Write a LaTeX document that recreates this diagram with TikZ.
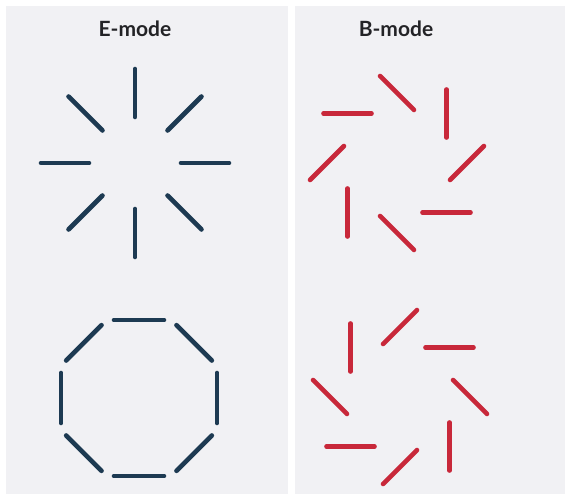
\documentclass[tikz,border=0pt]{standalone}
\usepackage{fontspec}
\setmainfont{Lato}
\usetikzlibrary{calc}
\definecolor{panelgray}{HTML}{F1F1F4}
\definecolor{stickblue}{HTML}{1D3A52}
\definecolor{stickred}{HTML}{C8283A}
\definecolor{titlegray}{HTML}{232326}
\begin{document}
\begin{tikzpicture}[x=1pt,y=-1pt,
  panel/.style={fill=panelgray,draw=none},
  title/.style={font=\bfseries\fontsize{21}{24}\selectfont,text=titlegray,inner sep=0pt},
  bstick/.style={line width=4.6pt,line cap=round,stickblue},
  rstick/.style={line width=4.6pt,line cap=round,stickred}]
\useasboundingbox (0,0) rectangle (568,494);
\fill[white] (0,0) rectangle (568,494);
\fill[panel] (6,6) rectangle (288,494);
\fill[panel] (295,6) rectangle (565,494);
\node[title] (etitle) at (135,29) {E-mode};
\node[title] (btitle) at (396,29) {B-mode};
% E-mode radial
\foreach \a in {0,45,...,315}{
  \draw[bstick] ($(135,163)+(\a:46)$) -- ($(135,163)+(\a:94)$);
}
% E-mode tangential
\foreach \a in {0,45,...,315}{
  \draw[bstick] ($(139,398)+(\a:78)+(\a+90:25)$) -- ($(139,398)+(\a:78)+(\a-90:25)$);
}
% B-mode top
\foreach \a in {0,45,...,315}{
  \draw[rstick] ($(397,163)+(\a:70)+(\a-45:24)$) -- ($(397,163)+(\a:70)+(\a+135:24)$);
}
% B-mode bottom
\foreach \a in {0,45,...,315}{
  \draw[rstick] ($(400,397)+(\a:70)+(\a+45:24)$) -- ($(400,397)+(\a:70)+(\a+225:24)$);
}
\end{tikzpicture}
\end{document}
